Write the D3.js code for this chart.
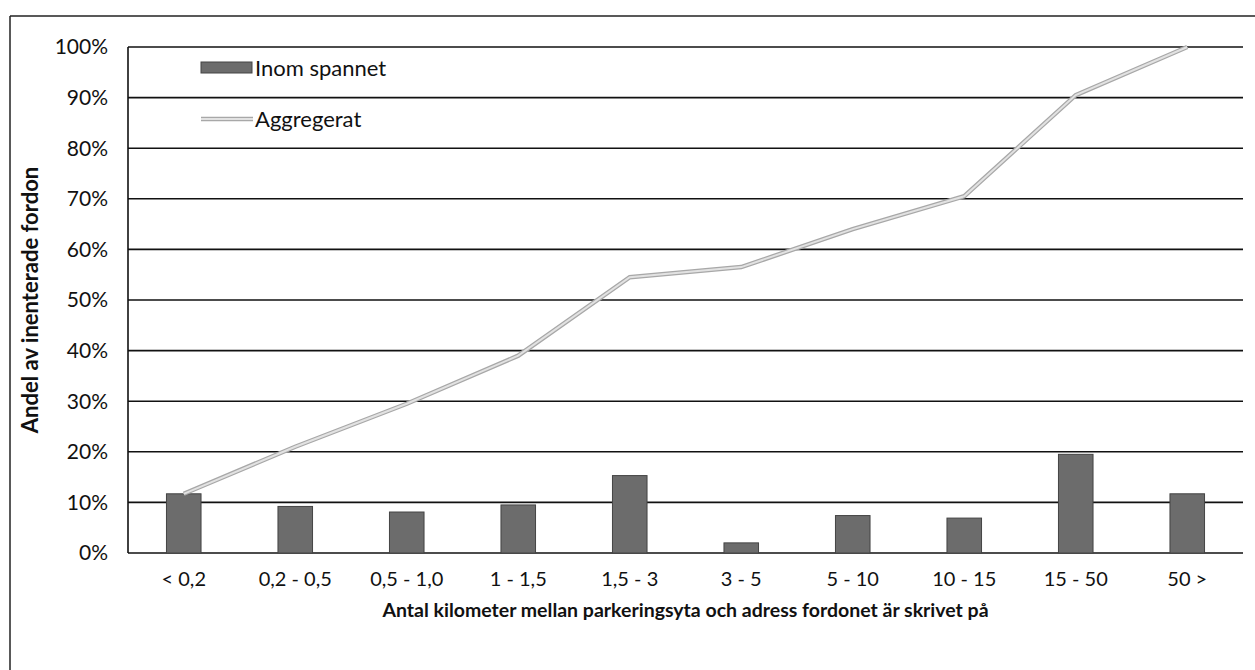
<!DOCTYPE html>
<html>
<head>
<meta charset="utf-8">
<script src="https://cdn.jsdelivr.net/npm/d3@7"></script>
<style>
  body { margin: 0; background: #fff; }
  svg { font-family: Lato, "Open Sans", sans-serif; }
</style>
</head>
<body>
<div id="chart"></div>
<script>
// Data
const categories = ["< 0,2", "0,2 - 0,5", "0,5 - 1,0", "1 - 1,5", "1,5 - 3", "3 - 5", "5 - 10", "10 - 15", "15 - 50", "50 >"];
const inomSpannet = [11.7, 9.2, 8.1, 9.5, 15.3, 2.0, 7.4, 6.9, 19.5, 11.7];
const aggregerat = [11.7, 21, 29.5, 39, 54.5, 56.5, 64, 70.5, 90.5, 100];
const yTicks = [0, 10, 20, 30, 40, 50, 60, 70, 80, 90, 100];

const W = 1255, H = 670;
const margin = { top: 47, right: 12, bottom: 117, left: 128 };
const width = W - margin.left - margin.right;
const height = H - margin.top - margin.bottom;

const svg = d3.select("#chart").append("svg")
  .attr("width", W)
  .attr("height", H);

// outer frame (left and top edges visible in scan)
svg.append("line").attr("x1", 10).attr("x2", 10).attr("y1", 16).attr("y2", H)
  .attr("stroke", "#222").attr("stroke-width", 1.5);
svg.append("line").attr("x1", 10).attr("x2", W).attr("y1", 16).attr("y2", 16)
  .attr("stroke", "#222").attr("stroke-width", 1.5);

const g = svg.append("g").attr("transform", `translate(${margin.left},${margin.top})`);

const x = d3.scaleBand().domain(categories).range([0, width]).paddingInner(0.69).paddingOuter(0.345);
const y = d3.scaleLinear().domain([0, 100]).range([height, 0]);

// gridlines
g.selectAll(".grid")
  .data(yTicks)
  .enter().append("line")
  .attr("x1", 0).attr("x2", width)
  .attr("y1", d => y(d)).attr("y2", d => y(d))
  .attr("stroke", "#111").attr("stroke-width", 1.6);

// y axis line
g.append("line").attr("x1", 0).attr("x2", 0).attr("y1", 0).attr("y2", height)
  .attr("stroke", "#111").attr("stroke-width", 1.6);

// y tick labels
g.selectAll(".ylab")
  .data(yTicks)
  .enter().append("text")
  .attr("x", -20)
  .attr("y", d => y(d))
  .attr("dy", "0.35em")
  .attr("text-anchor", "end")
  .style("font-size", "21px")
  .style("fill", "#111")
  .text(d => d + "%");

// x tick labels
g.selectAll(".xlab")
  .data(categories)
  .enter().append("text")
  .attr("x", d => x(d) + x.bandwidth() / 2)
  .attr("y", height + 33)
  .attr("text-anchor", "middle")
  .style("font-size", "20px")
  .style("fill", "#111")
  .text(d => d);

// bars
g.selectAll(".bar")
  .data(inomSpannet)
  .enter().append("rect")
  .attr("x", (d, i) => x(categories[i]))
  .attr("y", d => y(d))
  .attr("width", x.bandwidth())
  .attr("height", d => height - y(d))
  .attr("fill", "#6c6c6c")
  .attr("stroke", "#444")
  .attr("stroke-width", 1);

// aggregate line
const line = d3.line()
  .x((d, i) => x(categories[i]) + x.bandwidth() / 2)
  .y(d => y(d));

g.append("path").datum(aggregerat)
  .attr("d", line).attr("fill", "none")
  .attr("stroke", "#a8a8a8").attr("stroke-width", 4.5);
g.append("path").datum(aggregerat)
  .attr("d", line).attr("fill", "none")
  .attr("stroke", "#e2e2e2").attr("stroke-width", 2);

// legend
const legend = svg.append("g").attr("transform", "translate(201,0)");
legend.append("rect")
  .attr("x", 0).attr("y", 62).attr("width", 51).attr("height", 11)
  .attr("fill", "#6c6c6c").attr("stroke", "#444");
legend.append("text")
  .attr("x", 54).attr("y", 68).attr("dy", "0.35em")
  .style("font-size", "22px").style("fill", "#111")
  .text("Inom spannet");
legend.append("line")
  .attr("x1", 0).attr("x2", 52).attr("y1", 119).attr("y2", 119)
  .attr("stroke", "#a8a8a8").attr("stroke-width", 4.5);
legend.append("line")
  .attr("x1", 0).attr("x2", 52).attr("y1", 119).attr("y2", 119)
  .attr("stroke", "#e2e2e2").attr("stroke-width", 2);
legend.append("text")
  .attr("x", 54).attr("y", 119).attr("dy", "0.35em")
  .style("font-size", "22px").style("fill", "#111")
  .text("Aggregerat");

// axis titles
svg.append("text")
  .attr("transform", `translate(38,${margin.top + height / 2}) rotate(-90)`)
  .attr("text-anchor", "middle")
  .style("font-size", "22px")
  .style("font-weight", "bold")
  .style("fill", "#111")
  .text("Andel av inenterade fordon");

svg.append("text")
  .attr("x", margin.left + width / 2)
  .attr("y", 617)
  .attr("text-anchor", "middle")
  .style("font-size", "19.5px")
  .style("font-weight", "bold")
  .style("fill", "#111")
  .text("Antal kilometer mellan parkeringsyta och adress fordonet är skrivet på");
</script>
</body>
</html>
